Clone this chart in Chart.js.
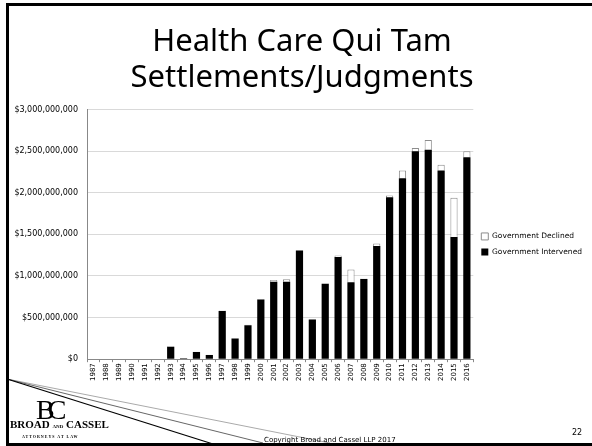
<!DOCTYPE html>
<html>
<head>
<meta charset="utf-8">
<script src="https://cdn.jsdelivr.net/npm/chart.js@4/dist/chart.umd.min.js"></script>
<style>
  html, body { margin: 0; padding: 0; background: #fff; }
  #slide { position: relative; width: 592px; height: 446px; overflow: hidden; font-family: "DejaVu Sans", sans-serif; }
  #chartCanvas { position: absolute; left: 0; top: 0; }
  #deco { position: absolute; left: 0; top: 0; }
  .logo-bc { position: absolute; left: 36px; top: 394px; font-family: "Liberation Serif", "DejaVu Serif", serif; font-size: 28px; color: #000; letter-spacing: -7px; }
  .logo-name { position: absolute; left: 10px; top: 418px; font-family: "Liberation Serif", "DejaVu Serif", serif; font-size: 11px; font-weight: bold; color: #000; }
  .logo-name small { font-size: 5px; }
  .logo-sub { position: absolute; left: 22px; top: 434px; font-family: "Liberation Serif", serif; font-size: 4px; letter-spacing: 1px; color: #000; font-weight: bold; }
  .copyright { position: absolute; left: 264px; top: 436px; font-size: 7px; color: #000; }
  .pagenum { position: absolute; left: 572px; top: 428px; font-size: 8px; color: #000; }
</style>
</head>
<body>
<div id="slide">
  <canvas id="chartCanvas" width="592" height="446"></canvas>
  <svg id="deco" width="592" height="446">
    <line x1="7" y1="379" x2="330" y2="443" stroke="#aaa" stroke-width="1"/>
    <line x1="7" y1="379" x2="263" y2="443" stroke="#666" stroke-width="1"/>
    <line x1="7" y1="379" x2="213" y2="444" stroke="#000" stroke-width="1.3"/>
    <rect x="6" y="3" width="590" height="3" fill="#000"/>
    <rect x="6" y="3" width="3" height="446" fill="#000"/>
    <rect x="6" y="443" width="590" height="3" fill="#000"/>
  </svg>
  <div class="logo-bc">BC</div>
  <div class="logo-name">BROAD <small>AND</small> CASSEL</div>
  <div class="logo-sub">ATTORNEYS AT LAW</div>
  <div class="copyright">Copyright Broad and Cassel LLP 2017</div>
  <div class="pagenum">22</div>
</div>
<script>
// values in millions of dollars
const years = ['1987','1988','1989','1990','1991','1992','1993','1994','1995','1996',
               '1997','1998','1999','2000','2001','2002','2003','2004','2005','2006',
               '2007','2008','2009','2010','2011','2012','2013','2014','2015','2016'];
const intervened = [0,0,0,0,0,0,150,10,85,50,
                    580,250,408,718,931,930,1305,477,908,1229,
                    926,965,1361,1947,2175,2498,2518,2266,1468,2426];
const declined = [0,0,0,0,0,0,5,5,3,3,
                  5,3,5,5,21,30,5,2,3,16,
                  151,5,28,20,91,40,115,72,471,72];
const yMax = 3000;
const yStep = 500;

const fmtDollars = v => '$' + Math.round(v * 1e6).toLocaleString('en-US');

document.addEventListener('DOMContentLoaded', () => {
    const ctx = document.getElementById('chartCanvas');

    new Chart(ctx, {
        type: 'bar',
        data: {
            labels: years,
            datasets: [{
                label: 'Government Intervened',
                data: intervened,
                backgroundColor: '#000',
                borderWidth: 0
            }, {
                label: 'Government Declined',
                data: declined,
                backgroundColor: '#fff',
                borderColor: '#8c8c8c',
                borderWidth: 1
            }]
        },
        options: {
            responsive: false,
            animation: false,
            devicePixelRatio: 1,
            layout: { padding: { top: 6, left: 12, right: 0, bottom: 64 } },
            datasets: { bar: { barPercentage: 0.56, categoryPercentage: 1 } },
            plugins: {
                title: {
                    display: true,
                    text: ['Health Care Qui Tam', 'Settlements/Judgments'],
                    color: '#000',
                    font: { family: 'Noto Sans', size: 31, weight: 'normal', lineHeight: 1.17 },
                    padding: { top: 18, bottom: 13 }
                },
                legend: {
                    position: 'right',
                    reverse: true,
                    title: { display: true, text: '', padding: { top: 86, bottom: 0 } },
                    labels: {
                        color: '#000',
                        boxWidth: 7,
                        boxHeight: 7,
                        padding: 8,
                        font: { family: 'DejaVu Sans', size: 7.5 }
                    }
                },
                tooltip: { enabled: false }
            },
            scales: {
                x: {
                    stacked: true,
                    border: { color: '#888' },
                    grid: { drawOnChartArea: false, drawTicks: true, tickLength: 3, color: '#888' },
                    ticks: {
                        minRotation: 90, maxRotation: 90, autoSkip: false, padding: 1,
                        color: '#000',
                        font: { family: 'DejaVu Sans', size: 7 }
                    }
                },
                y: {
                    stacked: true,
                    min: 0,
                    max: yMax,
                    border: { color: '#888' },
                    grid: { color: '#d9d9d9', drawTicks: false },
                    afterFit: scale => { scale.width = 75; },
                    ticks: {
                        stepSize: yStep,
                        padding: 9,
                        color: '#000',
                        font: { family: 'DejaVu Sans', size: 8 },
                        callback: v => fmtDollars(v)
                    }
                }
            }
        }
    });
});
</script>
</body>
</html>
